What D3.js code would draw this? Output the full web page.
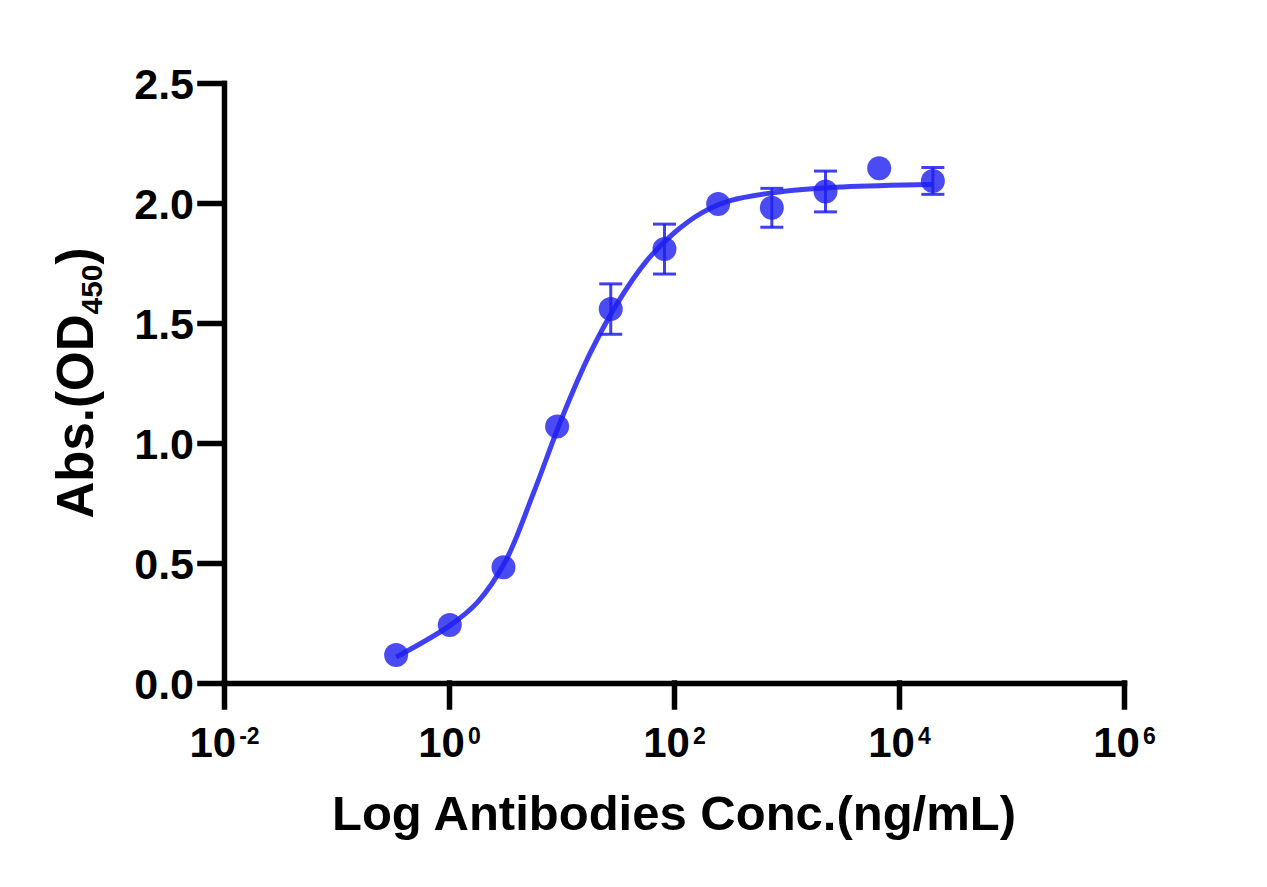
<!DOCTYPE html>
<html>
<head>
<meta charset="utf-8">
<script src="https://cdn.jsdelivr.net/npm/d3@7"></script>
<style>
  body { margin: 0; background: #fff; }
  text { font-family: "Liberation Sans", Arial, sans-serif; font-weight: bold; fill: #000; }
</style>
</head>
<body>
<div id="chart"></div>
<script>
// measured points (ng/mL, OD450, SD)
const conc = [0.339, 1.016, 3.05, 9.14, 27.4, 82.3, 246.9, 740.7, 2222, 6667, 20000];
const od   = [0.117, 0.242, 0.482, 1.069, 1.558, 1.808, 1.996, 1.980, 2.048, 2.145, 2.092];
const sd   = [0, 0, 0, 0, 0.105, 0.104, 0, 0.081, 0.085, 0, 0.056];

// fitted curve
const fitConc = [0.339, 1.0, 1.78, 3.16, 5.62, 10, 17.8, 31.6, 56.2, 100, 178, 316, 1000, 3162, 20000];
const fitOd   = [0.108, 0.237, 0.335, 0.505, 0.79, 1.10, 1.37, 1.585, 1.755, 1.875, 1.96, 2.01, 2.05, 2.067, 2.077];

const xTicks = [1e-2, 1e0, 1e2, 1e4, 1e6];
const xExp = ["-2", "0", "2", "4", "6"];
const yTicks = [0, 0.5, 1.0, 1.5, 2.0, 2.5];

const margin = {top: 83, right: 143, bottom: 204, left: 224};
const W = 1267, H = 887;
const width = W - margin.left - margin.right;
const height = H - margin.top - margin.bottom;
const blue = "rgb(30,30,240)";

const svg = d3.select("#chart")
  .append("svg")
    .attr("width", W)
    .attr("height", H)
  .append("g")
    .attr("transform", `translate(${margin.left}, ${margin.top})`);

const x = d3.scaleLog()
  .domain([1e-2, 1e6])
  .range([0, width]);

const y = d3.scaleLinear()
  .domain([0, 2.5])
  .range([height, 0]);

// X axis
const gx = svg.append("g")
  .attr("transform", `translate(0, ${height})`)
  .call(d3.axisBottom(x).tickValues(xTicks).tickSize(24).tickSizeOuter(0).tickFormat(""));
gx.selectAll("text").remove();
gx.selectAll(".tick").append("text")
  .attr("y", 74)
  .attr("text-anchor", "middle")
  .style("font-size", "42px")
  .each(function(d, i) {
    const t = d3.select(this);
    t.append("tspan").text("10");
    t.append("tspan").attr("dx", 3).attr("dy", -13).style("font-size", "23px").text(xExp[i]);
  });

// Y axis
const gy = svg.append("g")
  .call(d3.axisLeft(y).tickValues(yTicks).tickSize(24).tickSizeOuter(0).tickPadding(6).tickFormat(d3.format(".1f")));
gy.selectAll("text")
  .style("font-size", "43px")
  .attr("dy", "0.36em");

svg.selectAll(".domain, .tick line")
  .attr("stroke", "#000")
  .attr("stroke-width", 5.5)
  .attr("stroke-linecap", "square");

// fitted curve
const line = d3.line()
  .x((d, i) => x(fitConc[i]))
  .y(d => y(d))
  .curve(d3.curveCatmullRom.alpha(0.5));

svg.append("path")
  .datum(fitOd)
  .attr("fill", "none")
  .attr("stroke", blue)
  .attr("stroke-opacity", 0.85)
  .attr("stroke-width", 5)
  .attr("d", line);

// error bars
const err = svg.append("g")
  .attr("stroke", blue)
  .attr("stroke-opacity", 0.85)
  .attr("stroke-width", 3)
  .selectAll("g")
  .data(od.map((v, i) => ({c: conc[i], v: v, e: sd[i]})).filter(d => d.e > 0))
  .enter()
  .append("g");
err.append("line")
  .attr("x1", d => x(d.c)).attr("x2", d => x(d.c))
  .attr("y1", d => y(d.v + d.e)).attr("y2", d => y(d.v - d.e));
err.append("line")
  .attr("x1", d => x(d.c) - 11.5).attr("x2", d => x(d.c) + 11.5)
  .attr("y1", d => y(d.v + d.e)).attr("y2", d => y(d.v + d.e));
err.append("line")
  .attr("x1", d => x(d.c) - 11.5).attr("x2", d => x(d.c) + 11.5)
  .attr("y1", d => y(d.v - d.e)).attr("y2", d => y(d.v - d.e));

// points
svg.append("g")
  .selectAll("circle")
  .data(od)
  .enter()
  .append("circle")
    .attr("cx", (d, i) => x(conc[i]))
    .attr("cy", d => y(d))
    .attr("r", 12)
    .style("fill", blue)
    .style("opacity", 0.8);

// axis titles
svg.append("text")
  .attr("x", width / 2)
  .attr("y", height + 147)
  .attr("text-anchor", "middle")
  .style("font-size", "49px")
  .text("Log Antibodies Conc.(ng/mL)");

const yt = svg.append("text")
  .attr("transform", `translate(${-131}, ${height / 2}) rotate(-90)`)
  .attr("text-anchor", "middle")
  .style("font-size", "51px");
yt.append("tspan").text("Abs.(OD");
yt.append("tspan").attr("dy", 9).style("font-size", "30px").text("450");
yt.append("tspan").attr("dy", -9).text(")");
</script>
</body>
</html>
